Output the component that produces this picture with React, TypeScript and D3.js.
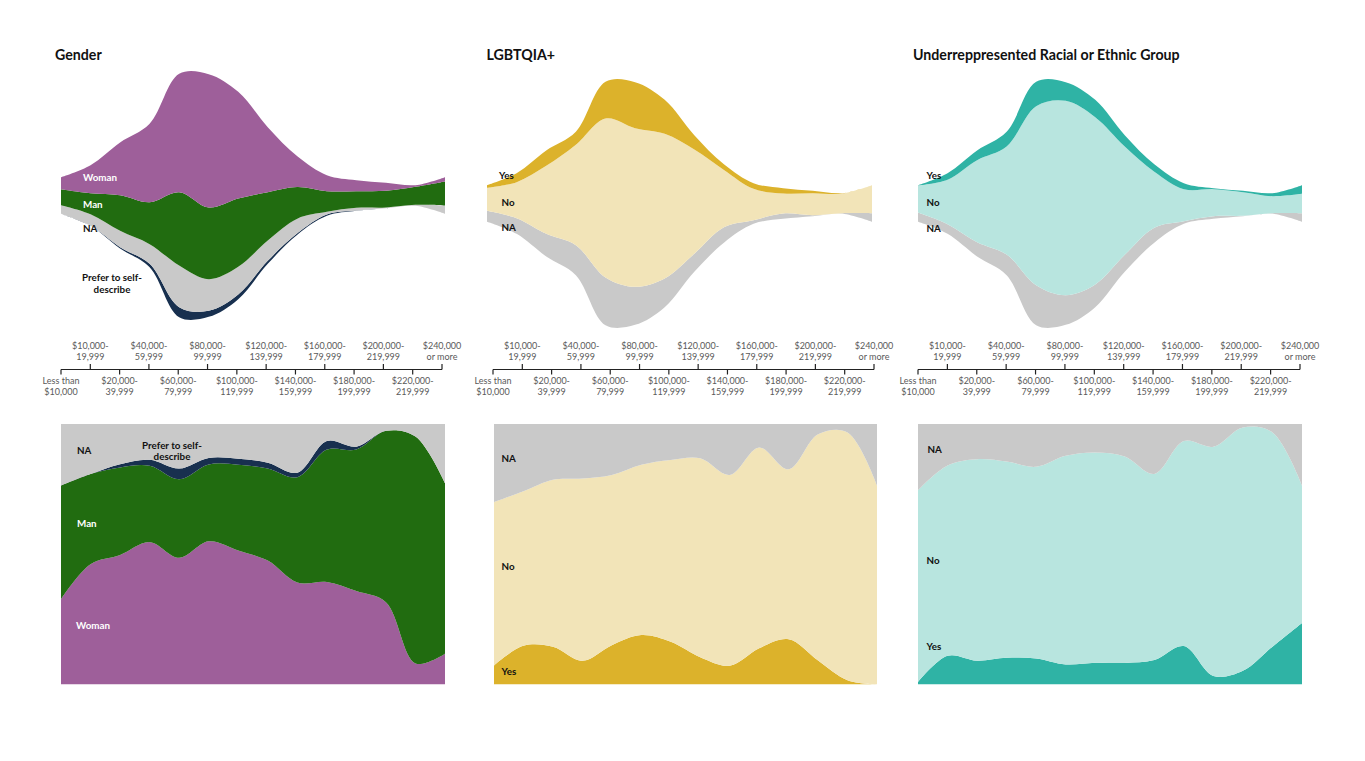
import * as d3 from 'd3'

// salary brackets (x axis)
const brackets = [
    "Less than $10,000", "$10,000-19,999", "$20,000-39,999", "$40,000-59,999",
    "$60,000-79,999", "$80,000-99,999", "$100,000-119,999", "$120,000-139,999",
    "$140,000-159,999", "$160,000-179,999", "$180,000-199,999", "$200,000-219,999",
    "$220,000-219,999", "$240,000 or more",
];
const tickLines = [
    ["Less than", "$10,000"], ["$10,000-", "19,999"], ["$20,000-", "39,999"], ["$40,000-", "59,999"],
    ["$60,000-", "79,999"], ["$80,000-", "99,999"], ["$100,000-", "119,999"], ["$120,000-", "139,999"],
    ["$140,000-", "159,999"], ["$160,000-", "179,999"], ["$180,000-", "199,999"], ["$200,000-", "219,999"],
    ["$220,000-", "219,999"], ["$240,000", "or more"],
];

// respondents per bracket
const genderWoman = [36, 84, 158, 235, 355, 400, 320, 195, 92, 48, 33, 24, 5, 13];
const genderMan = [48, 63, 107, 126, 220, 215, 205, 145, 95, 62, 50, 50, 54, 72];
const genderPrefer = [0, 0, 4, 10, 30, 18, 14, 9, 4, 4, 1, 0, 0, 0];
const genderNA = [26, 35, 49, 59, 125, 95, 83, 61, 44, 8, 8, 2, 3, 25];

const lgbtqYes = [8, 27, 46, 39, 110, 138, 102, 43, 17, 17, 16, 7, 1, 0];
const lgbtqNo = [69, 108, 204, 301, 477, 476, 434, 313, 172, 94, 60, 66, 59, 84];
const lgbtqNA = [33, 47, 68, 90, 143, 114, 86, 54, 46, 11, 16, 3, 2, 26];

const raceYes = [1, 20, 29, 44, 73, 56, 52, 34, 22, 18, 3, 4, 9, 26];
const raceNo = [81, 133, 246, 324, 537, 583, 502, 325, 168, 96, 81, 71, 51, 58];
const raceNA = [28, 29, 43, 62, 120, 89, 68, 51, 45, 8, 8, 1, 2, 26];

const FONT = 'Lato, "Open Sans", sans-serif';
const GRAY = '#c9c9c9';

type Row = { bracket: string; [k: string]: number | string };
type Label = { text: string[]; x: number; y: number; color: string; anchor?: string };

type PanelDef = {
    title: string;
    titleX: number;
    rows: Row[];
    colors: Record<string, string>;
    streamKeys: string[];   // bottom -> top
    areaKeys: string[];     // bottom -> top
    streamX: [number, number];
    axisX: [number, number];
    areaX: [number, number];
    streamMid: number;
    streamLabels: Label[];
    areaLabels: Label[];
};

const makeRows = (cols: Record<string, number[]>): Row[] =>
    brackets.map((b, i) => {
        const r: Row = { bracket: b };
        Object.keys(cols).forEach(k => { r[k] = cols[k][i]; });
        return r;
    });

const panels: PanelDef[] = [
    {
        title: 'Gender', titleX: 55,
        rows: makeRows({ Woman: genderWoman, Man: genderMan, Prefer: genderPrefer, NA: genderNA }),
        colors: { Woman: '#9e5f9a', Man: '#216c10', Prefer: '#18304f', NA: GRAY },
        streamKeys: ['Prefer', 'NA', 'Man', 'Woman'],
        areaKeys: ['Woman', 'Man', 'Prefer', 'NA'],
        streamX: [61, 445], axisX: [61, 442], areaX: [61, 445], streamMid: 195.5,
        streamLabels: [
            { text: ['Woman'], x: 83, y: 181, color: '#fff' },
            { text: ['Man'], x: 83, y: 208, color: '#fff' },
            { text: ['NA'], x: 83, y: 232, color: '#111' },
            { text: ['Prefer to self-', 'describe'], x: 112, y: 281, color: '#111', anchor: 'middle' },
        ],
        areaLabels: [
            { text: ['NA'], x: 77, y: 453.5, color: '#111' },
            { text: ['Prefer to self-', 'describe'], x: 172, y: 448.5, color: '#111', anchor: 'middle' },
            { text: ['Man'], x: 77, y: 527, color: '#fff' },
            { text: ['Woman'], x: 76, y: 628.5, color: '#fff' },
        ],
    },
    {
        title: 'LGBTQIA+', titleX: 486.5,
        rows: makeRows({ Yes: lgbtqYes, No: lgbtqNo, NA: lgbtqNA }),
        colors: { Yes: '#dcb22b', No: '#f2e4b8', NA: GRAY },
        streamKeys: ['NA', 'No', 'Yes'],
        areaKeys: ['Yes', 'No', 'NA'],
        streamX: [487, 872], axisX: [493, 874], areaX: [494, 877], streamMid: 203.5,
        streamLabels: [
            { text: ['Yes'], x: 499, y: 179, color: '#111' },
            { text: ['No'], x: 501.5, y: 206, color: '#111' },
            { text: ['NA'], x: 501.5, y: 231, color: '#111' },
        ],
        areaLabels: [
            { text: ['NA'], x: 501.5, y: 462, color: '#111' },
            { text: ['No'], x: 501.5, y: 570, color: '#111' },
            { text: ['Yes'], x: 501.5, y: 675, color: '#111' },
        ],
    },
    {
        title: 'Underreppresented Racial or Ethnic Group', titleX: 913,
        rows: makeRows({ Yes: raceYes, No: raceNo, NA: raceNA }),
        colors: { Yes: '#2fb3a5', No: '#b8e5df', NA: GRAY },
        streamKeys: ['NA', 'No', 'Yes'],
        areaKeys: ['Yes', 'No', 'NA'],
        streamX: [918, 1302], axisX: [918, 1300], areaX: [918, 1302], streamMid: 203.5,
        streamLabels: [
            { text: ['Yes'], x: 926.5, y: 179, color: '#111' },
            { text: ['No'], x: 926.5, y: 205.5, color: '#111' },
            { text: ['NA'], x: 926.5, y: 232, color: '#111' },
        ],
        areaLabels: [
            { text: ['NA'], x: 927.5, y: 453, color: '#111' },
            { text: ['No'], x: 926.5, y: 563.5, color: '#111' },
            { text: ['Yes'], x: 926.5, y: 649.5, color: '#111' },
        ],
    },
];

const AXIS_Y = 369.5;
const AREA_TOP = 424;
const AREA_BOTTOM = 684.5;

const Labels = ({ labels }: { labels: Label[] }) => (
    <g fontFamily={FONT} fontSize={9.8} fontWeight={700}>
        {labels.map((l, i) => (
            <text key={i} x={l.x} y={l.y} fill={l.color} textAnchor={l.anchor || 'start'}>
                {l.text.map((t, j) => (
                    <tspan key={j} x={l.x} dy={j === 0 ? 0 : 11.5}>{t}</tspan>
                ))}
            </text>
        ))}
    </g>
);

const Panel = ({ p, idx }: { p: PanelDef; idx: number }) => {
    // streamgraph on top
    const xs = d3.scalePoint<string>().domain(brackets).range(p.streamX);
    const ys = d3.scaleLinear().domain([-450, 450]).range([p.streamMid + 150, p.streamMid - 150]);
    const streamSeries = d3.stack<Row>()
        .keys(p.streamKeys)
        .value((d, k) => d[k] as number)
        .order(d3.stackOrderNone)
        .offset(d3.stackOffsetSilhouette)(p.rows);
    const streamArea = d3.area<d3.SeriesPoint<Row>>()
        .x(d => xs(d.data.bracket)!)
        .y0(d => ys(d[0]))
        .y1(d => ys(d[1]))
        .curve(d3.curveCatmullRom);

    // 100% stacked area below
    const xa = d3.scalePoint<string>().domain(brackets).range(p.areaX);
    const ya = d3.scaleLinear().domain([0, 1]).range([AREA_BOTTOM, AREA_TOP]);
    const areaSeries = d3.stack<Row>()
        .keys(p.areaKeys)
        .value((d, k) => d[k] as number)
        .order(d3.stackOrderNone)
        .offset(d3.stackOffsetExpand)(p.rows);
    const shareArea = d3.area<d3.SeriesPoint<Row>>()
        .x(d => xa(d.data.bracket)!)
        .y0(d => ya(d[0]))
        .y1(d => ya(d[1]))
        .curve(d3.curveCatmullRom);

    const xAxis = d3.scalePoint<string>().domain(brackets).range(p.axisX);
    const clipId = `share-clip-${idx}`;

    return (
        <g>
            <text x={p.titleX} y={59.5} fontFamily={FONT} fontSize={14.2} fontWeight={700} fill="#111">{p.title}</text>

            {streamSeries.map(s => (
                <path key={s.key} d={streamArea(s) || ''} fill={p.colors[s.key]} />
            ))}
            <Labels labels={p.streamLabels} />

            <g>
                <line x1={p.axisX[0]} x2={p.axisX[1]} y1={AXIS_Y} y2={AXIS_Y} stroke="#222" strokeWidth={1.2} />
                {brackets.map((b, i) => {
                    const x = xAxis(b)!;
                    const up = i % 2 === 1;
                    const lines = tickLines[i];
                    return (
                        <g key={b}>
                            <line x1={x} x2={x} y1={AXIS_Y} y2={up ? AXIS_Y - 5.5 : AXIS_Y + 5}
                                stroke="#222" strokeWidth={1.2} />
                            <text textAnchor="middle" fontFamily={FONT} fontSize={9} fill="#5a5a5a">
                                {lines.map((t, j) => (
                                    <tspan key={j} x={x} y={(up ? 348.5 : 383.5) + j * 11}>{t}</tspan>
                                ))}
                            </text>
                        </g>
                    );
                })}
            </g>

            <defs>
                <clipPath id={clipId}>
                    <rect x={p.areaX[0]} y={AREA_TOP} width={p.areaX[1] - p.areaX[0]} height={AREA_BOTTOM - AREA_TOP} />
                </clipPath>
            </defs>
            <g clipPath={`url(#${clipId})`}>
                {areaSeries.map(s => (
                    <path key={s.key} d={shareArea(s) || ''} fill={p.colors[s.key]} />
                ))}
            </g>
            <Labels labels={p.areaLabels} />
        </g>
    );
};

export default function App() {
    return (
        <svg width={1365} height={761} style={{ position: 'absolute', left: 0, top: 0, background: '#fff' }}>
            {panels.map((p, i) => <Panel key={p.title} p={p} idx={i} />)}
        </svg>
    );
}
